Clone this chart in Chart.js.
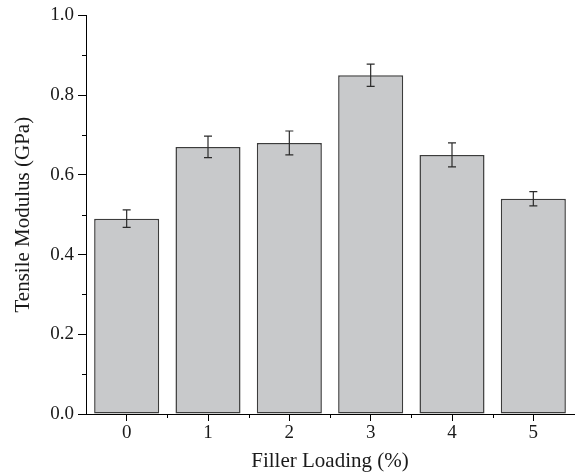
<!DOCTYPE html>
<html>
<head>
<meta charset="utf-8">
<script src="https://cdn.jsdelivr.net/npm/chart.js@4"></script>
<style>
  html, body { margin: 0; padding: 0; background: #fff; }
  #wrap { width: 576px; height: 475px; }
</style>
</head>
<body>
<div id="wrap"><canvas id="modulusChart"></canvas></div>
<script>
// Filler loading vs tensile modulus
const loadings = ['0', '1', '2', '3', '4', '5'];
const modulus = [0.49, 0.67, 0.68, 0.85, 0.65, 0.54];
const modulusErr = [0.022, 0.027, 0.03, 0.028, 0.03, 0.018];

const serif = "'Liberation Serif', 'Times New Roman', serif";

// error bars + minor ticks, drawn through the chart's own scales
const extrasPlugin = {
    id: 'extras',
    afterDatasetsDraw(chart) {
        const ctx = chart.ctx;
        const y = chart.scales.y;
        const meta = chart.getDatasetMeta(0);
        ctx.save();
        ctx.strokeStyle = '#2b2b2b';
        ctx.lineWidth = 1.2;
        meta.data.forEach((bar, i) => {
            const top = y.getPixelForValue(modulus[i] + modulusErr[i]);
            const bot = y.getPixelForValue(modulus[i] - modulusErr[i]);
            ctx.beginPath();
            ctx.moveTo(bar.x, top);
            ctx.lineTo(bar.x, bot);
            ctx.moveTo(bar.x - 4, top);
            ctx.lineTo(bar.x + 4, top);
            ctx.moveTo(bar.x - 4, bot);
            ctx.lineTo(bar.x + 4, bot);
            ctx.stroke();
        });
        ctx.restore();
    },
    afterDraw(chart) {
        const ctx = chart.ctx;
        const { x, y } = chart.scales;
        const area = chart.chartArea;
        ctx.save();
        ctx.strokeStyle = '#000';
        ctx.lineWidth = 1;
        ctx.beginPath();
        // minor y ticks at the odd tenths
        for (let v = 0.1; v < 1; v += 0.2) {
            const py = Math.round(y.getPixelForValue(v)) + 0.5;
            ctx.moveTo(area.left - 4, py);
            ctx.lineTo(area.left, py);
        }
        // minor x ticks between categories
        for (let i = 0; i < loadings.length - 1; i++) {
            const px = Math.round((x.getPixelForValue(i) + x.getPixelForValue(i + 1)) / 2) + 0.5;
            ctx.moveTo(px, area.bottom);
            ctx.lineTo(px, area.bottom + 4);
        }
        ctx.stroke();
        ctx.restore();
    }
};

const ctx = document.getElementById('modulusChart').getContext('2d');
new Chart(ctx, {
    type: 'bar',
    data: {
        labels: loadings,
        datasets: [{
            label: 'Tensile Modulus',
            data: modulus,
            backgroundColor: '#c8c9cb',
            borderColor: '#3c3c3c',
            borderWidth: 1.5,
            borderSkipped: false,
            categoryPercentage: 0.8,
            barPercentage: 1.0
        }]
    },
    options: {
        responsive: true,
        maintainAspectRatio: false,
        animation: false,
        layout: { padding: { left: 0, right: 2, top: 14, bottom: 0 } },
        plugins: {
            legend: { display: false },
            tooltip: { enabled: false }
        },
        scales: {
            x: {
                afterFit: (scale) => { scale.height = 61; },
                grid: {
                    offset: false,
                    drawOnChartArea: false,
                    drawTicks: true,
                    tickLength: 7,
                    tickColor: '#000'
                },
                border: { color: '#000', width: 1 },
                ticks: {
                    color: '#1a1a1a',
                    padding: 1,
                    font: { family: serif, size: 19 }
                },
                title: {
                    display: true,
                    text: 'Filler Loading (%)',
                    color: '#1a1a1a',
                    font: { family: serif, size: 21 },
                    padding: { top: 0, bottom: 1 }
                }
            },
            y: {
                min: 0,
                max: 1.0,
                afterFit: (scale) => { scale.width = 86; },
                grid: {
                    drawOnChartArea: false,
                    drawTicks: true,
                    tickLength: 8,
                    tickColor: '#000'
                },
                border: { color: '#000', width: 1 },
                ticks: {
                    stepSize: 0.2,
                    color: '#1a1a1a',
                    padding: 4,
                    font: { family: serif, size: 19 },
                    callback: (v) => Number(v).toFixed(1)
                },
                title: {
                    display: true,
                    text: 'Tensile Modulus (GPa)',
                    color: '#1a1a1a',
                    font: { family: serif, size: 21 },
                    padding: { top: 11, bottom: 0 }
                }
            }
        }
    },
    plugins: [extrasPlugin]
});
</script>
</body>
</html>
